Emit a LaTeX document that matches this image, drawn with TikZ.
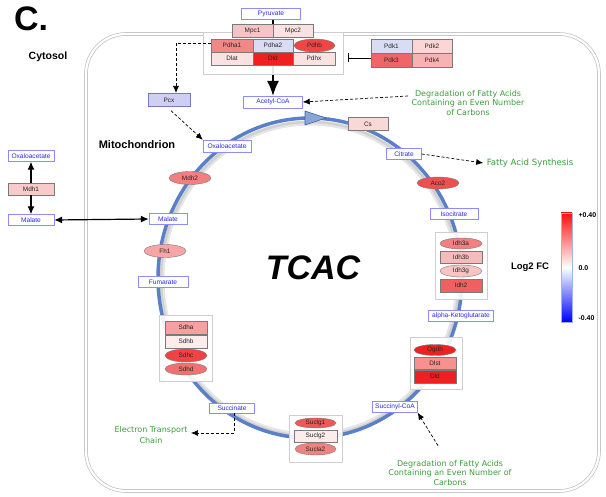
\documentclass[tikz,border=0pt]{standalone}
\usepackage{fontspec}
\setmainfont{Liberation Sans}
\newfontfamily\verd{DejaVu Sans}
\usetikzlibrary{shapes.geometric,arrows.meta,backgrounds}
\definecolor{metline}{HTML}{8C8CFF}
\definecolor{mettext}{HTML}{2A2AE6}
\definecolor{genline}{HTML}{7A7A7A}
\definecolor{grpline}{HTML}{CFCFCF}
\definecolor{cyc}{HTML}{5A80C8}
\definecolor{grn}{HTML}{3C9C3C}
\definecolor{cMpcA}{HTML}{F5C5C5}
\definecolor{cLt}{HTML}{FBE2E2}
\definecolor{cPdhaA}{HTML}{F08888}
\definecolor{cBl}{HTML}{DADCF5}
\definecolor{cPdhb}{HTML}{F04545}
\definecolor{cDld}{HTML}{EE2020}
\definecolor{cPdkB}{HTML}{FCD5D5}
\definecolor{cPdkC}{HTML}{F06565}
\definecolor{cPdkD}{HTML}{F8B2B2}
\definecolor{cCs}{HTML}{FBD8D8}
\definecolor{cAco}{HTML}{F04F4F}
\definecolor{cIdhA}{HTML}{F28080}
\definecolor{cIdhB}{HTML}{F8BBBB}
\definecolor{cIdhG}{HTML}{F8C3C3}
\definecolor{cIdhT}{HTML}{F06060}
\definecolor{cDlst}{HTML}{F89090}
\definecolor{cSucA}{HTML}{F05858}
\definecolor{cSucB}{HTML}{FCECEC}
\definecolor{cSucC}{HTML}{F28282}
\definecolor{cSdhA}{HTML}{F8A0A0}
\definecolor{cSdhC}{HTML}{F04444}
\definecolor{cSdhD}{HTML}{F27070}
\definecolor{cFh}{HTML}{F8A5A5}
\definecolor{cMdhA}{HTML}{F8CACA}
\definecolor{cPcx}{HTML}{CFCFF3}
\definecolor{pcxline}{HTML}{7878C8}
\definecolor{legline}{HTML}{9DB5E8}
\definecolor{legred}{HTML}{FF1010}
\definecolor{legblue}{HTML}{0000FF}
\definecolor{triA}{HTML}{8AA6D6}
\definecolor{triB}{HTML}{4060A0}
\begin{document}
\begin{tikzpicture}[x=1pt,y=-1pt,
  met/.style={draw=metline, fill=white, text=mettext, rectangle, inner sep=0pt,
    minimum height=11pt, font=\fontsize{6.6}{7}\selectfont},
  gbox/.style={draw=genline, rectangle, inner sep=0pt, minimum width=42pt,
    minimum height=13pt, text=black!85, font=\fontsize{6.4}{7}\selectfont},
  gell/.style={draw=genline, ellipse, inner sep=0pt, minimum width=42pt,
    minimum height=12pt, text=black!85, font=\fontsize{6.4}{7}\selectfont},
  grp/.style={draw=grpline, fill=white, fill opacity=0.9, line width=0.5pt},
  lbl/.style={text=grn, align=center, font=\verd\fontsize{8}{9.7}\selectfont},
  dsh/.style={draw=black, dash pattern=on 3pt off 2pt, line width=0.7pt,
    -{Latex[length=7pt,width=6pt]}},
  thk/.style={draw=black, line width=1.2pt, -{Latex[length=8pt,width=7pt]}}
]
\useasboundingbox (0,0) rectangle (606,497);
% mitochondrion membrane
\draw[gray!50, line width=0.7pt, double=white, double distance=2.2pt, rounded corners=40pt]
  (86,34) rectangle (599,491);
% TCA cycle
\draw[black!10, line width=5pt] (310,279) ellipse [x radius=148, y radius=156];
\draw[black!18, line width=2.5pt] (310,279) ellipse [x radius=149, y radius=157];
\draw[cyc, line width=3.5pt] (310,278) ellipse [x radius=152, y radius=160];
\filldraw[fill=triA, draw=triB, line width=0.6pt] (305,111) -- (326,118) -- (305,125) -- cycle;
% groups
\draw[grp] (203,32) rectangle (343,74);
\draw[grp] (435,232) rectangle (487,299);
\draw[grp] (410,337) rectangle (462,389);
\draw[grp] (289,415) rectangle (342,462);
\draw[grp] (159,315) rectangle (212,381);
% titles
\node[font=\bfseries\fontsize{34}{36}\selectfont, inner sep=0pt] (ttl) at (31,19) {C.};
\node[font=\bfseries\fontsize{10.5}{12}\selectfont] (cyt) at (48,57) {Cytosol};
\node[font=\bfseries\fontsize{11}{12}\selectfont] (mito) at (137,145) {Mitochondrion};
\node[font=\bfseries\itshape\fontsize{34}{36}\selectfont] (tcac) at (313,268) {TCAC};
% metabolites
\node[met, minimum width=59pt] (pyr) at (271,14) {Pyruvate};
\node[met, minimum width=59pt, minimum height=12pt] (acoa) at (273,102) {Acetyl-CoA};
\node[met, minimum width=48pt, minimum height=12pt] (moaa) at (227,146) {Oxaloacetate};
\node[met, minimum width=35pt] (cit) at (404,154) {Citrate};
\node[met, minimum width=48pt] (iso) at (454,214) {Isocitrate};
\node[met, minimum width=65pt] (akg) at (461,316) {alpha-Ketoglutarate};
\node[met, minimum width=45pt] (scoa) at (395,407) {Succinyl-CoA};
\node[met, minimum width=45pt, minimum height=10pt] (succ) at (232,408) {Succinate};
\node[met, minimum width=50pt] (fum) at (163,282) {Fumarate};
\node[met, minimum width=38pt] (mmal) at (168,219) {Malate};
\node[met, minimum width=46pt] (coaa) at (31,156) {Oxaloacetate};
\node[met, minimum width=46pt] (cmal) at (31,220) {Malate};
% genes
\node[gbox, fill=cMdhA, minimum width=46pt, minimum height=12pt] (mdh1) at (31,189) {Mdh1};
\node[gbox, draw=pcxline, fill=cPcx] (pcx) at (169,100) {Pcx};
\node[gbox, fill=cMpcA, minimum width=41pt] (mpc1) at (252.5,30.5) {Mpc1};
\node[gbox, fill=cLt, minimum width=40pt] (mpc2) at (293,30.5) {Mpc2};
\node[gbox, fill=cPdhaA] (pdha1) at (232,45.5) {Pdha1};
\node[gbox, fill=cBl, minimum width=40pt] (pdha2) at (273,45.5) {Pdha2};
\node[gell, fill=cPdhb, minimum width=41pt, minimum height=13pt] (pdhb) at (314.5,45.5) {Pdhb};
\node[gbox, fill=cLt] (dlat) at (232,58.5) {Dlat};
\node[gbox, fill=cDld, minimum width=40pt] (dld) at (273,58.5) {Dld};
\node[gbox, fill=cLt] (pdhx) at (314,58.5) {Pdhx};
\node[gbox, fill=cBl, minimum width=41pt, minimum height=14pt] (pdk1) at (391.5,46) {Pdk1};
\node[gbox, fill=cPdkB, minimum width=40pt, minimum height=14pt] (pdk2) at (432,46) {Pdk2};
\node[gbox, fill=cPdkC, minimum width=41pt, minimum height=14pt] (pdk3) at (391.5,60) {Pdk3};
\node[gbox, fill=cPdkD, minimum width=40pt, minimum height=14pt] (pdk4) at (432,60) {Pdk4};
\node[gbox, fill=cCs, minimum width=40pt] (cs) at (368,124) {Cs};
\node[gell, fill=cAco] (aco2) at (438,183) {Aco2};
\node[gell, fill=cIdhA, minimum height=13pt] (mdh2) at (190,178) {Mdh2};
\node[gell, fill=cFh, minimum height=13pt] (fh1) at (165,251) {Fh1};
\node[gell, fill=cIdhA, minimum height=11pt] (idh3a) at (461,243.5) {Idh3a};
\node[gbox, fill=cIdhB, minimum height=12pt] (idh3b) at (461,257) {Idh3b};
\node[gell, fill=cIdhG] (idh3g) at (461,271) {Idh3g};
\node[gbox, fill=cIdhT] (idh2) at (461,285.5) {Idh2};
\node[gell, fill=cDld, minimum height=11pt] (ogdh) at (435,350) {Ogdh};
\node[gbox, fill=cDlst, minimum height=12pt] (dlst) at (435,363) {Dlst};
\node[gbox, fill=cDld] (dld2) at (435,376.5) {Dld};
\node[gell, fill=cSucA, minimum width=41pt, minimum height=10pt] (suclg1) at (315.5,423) {Suclg1};
\node[gbox, fill=cSucB, minimum width=43pt, minimum height=12pt] (suclg2) at (315.5,436) {Suclg2};
\node[gell, fill=cSucC, minimum width=41pt] (sucla2) at (315.5,449) {Sucla2};
\node[gbox, fill=cSdhA] (sdha) at (186,327.5) {Sdha};
\node[gbox, fill=cSucB] (sdhb) at (186,341.5) {Sdhb};
\node[gell, fill=cSdhC, minimum height=13pt] (sdhc) at (186,355.5) {Sdhc};
\node[gell, fill=cSdhD] (sdhd) at (186,369) {Sdhd};
% green labels
\node[lbl] (dfa1) at (468,103) {Degradation of Fatty Acids\\Containing an Even Number\\of Carbons};
\node[lbl, font=\verd\fontsize{8.6}{10}\selectfont] (fas) at (530,163) {Fatty Acid Synthesis};
\node[lbl, font=\verd\fontsize{8}{10.8}\selectfont] (etc) at (151,435) {Electron Transport\\Chain};
\node[lbl] (dfa2) at (450,473) {Degradation of Fatty Acids\\Containing an Even Number of\\Carbons};
% legend
\shade[top color=legred, bottom color=legblue, middle color=white] (561,213) rectangle (572,322);
\draw[legline, line width=0.6pt] (561,213) rectangle (572,322);
\node[font=\bfseries\fontsize{9.5}{11}\selectfont] (lfc) at (530,267) {Log2 FC};
\node[font=\bfseries\fontsize{7}{8}\selectfont, anchor=west] (lhi) at (575,215) {+0.40};
\node[font=\bfseries\fontsize{7}{8}\selectfont, anchor=west] (lmid) at (575,268) {0.0};
\node[font=\bfseries\fontsize{7}{8}\selectfont, anchor=west] (llo) at (575,318) {-0.40};
% coordinates
\coordinate (pcxin) at (176,93);
\coordinate (bend1) at (176,43);
\coordinate (etcbend) at (234,433);
\coordinate (inh) at (348,58);
% connectors
\begin{pgfonlayer}{background}
\draw[black, line width=1.3pt, -{Latex[length=15pt,width=12pt]}] (pyr.south -| acoa.north) -- (acoa.north);
\end{pgfonlayer}
\draw[dsh] (pdha1.west |- bend1) -- (bend1) -- (pcxin);
\draw[dsh] (pcx.south) ++(2,4) -- (moaa.north west);
\draw[dsh] (dfa1.west |- 0,96) -- (acoa.east);
\draw[dsh] (cit.east) -- (fas.west);
\draw[dsh] (succ.south -| etcbend) -- (etcbend) -- (etc.east |- etcbend);
\draw[dsh] (dfa2.north) ++(-12,-11) -- (scoa.south east);
\draw[black, line width=0.8pt, -{Bar[width=9pt]}] (pdk3.west |- inh) -- (inh);
\draw[thk] (mdh1.north) -- (coaa.south);
\draw[thk] (mdh1.south) -- (cmal.north);
\draw[thk, {Latex[length=8pt,width=7pt]}-{Latex[length=8pt,width=7pt]}] (cmal.east) -- (mmal.west);
\end{tikzpicture}
\end{document}
